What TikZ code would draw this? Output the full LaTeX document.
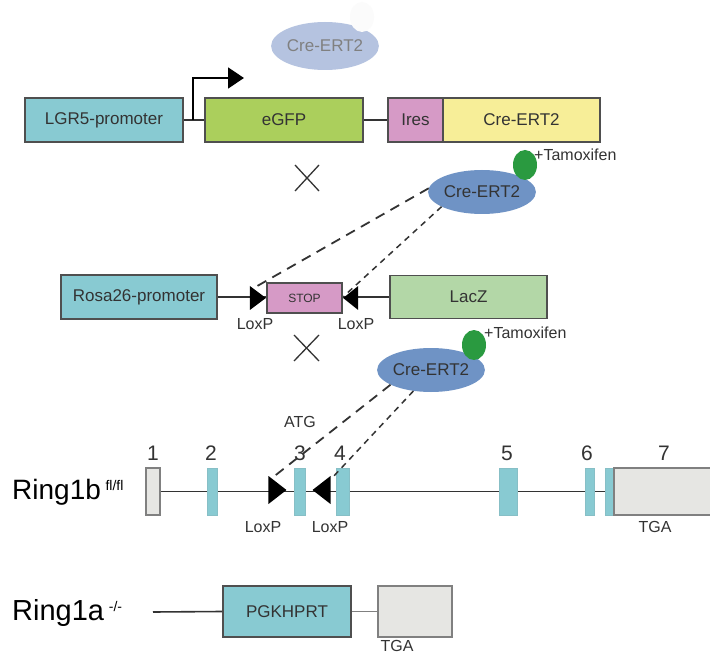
\documentclass[tikz,border=0pt]{standalone}
\usepackage{fontspec}
\setmainfont{Liberation Sans}
\usetikzlibrary{shapes.geometric,arrows.meta,backgrounds}
\definecolor{promo}{HTML}{88CAD2}
\definecolor{gfp}{HTML}{ABCF5C}
\definecolor{iresc}{HTML}{D69AC6}
\definecolor{crey}{HTML}{F7EE98}
\definecolor{lacc}{HTML}{B3D7A7}
\definecolor{greyex}{HTML}{E6E6E3}
\definecolor{creblue}{HTML}{6F93C5}
\definecolor{crefade}{HTML}{B5C3E0}
\definecolor{tamo}{HTML}{2A9A40}
\definecolor{boxline}{HTML}{4F4F4F}
\definecolor{txt}{HTML}{333333}
\tikzset{
  gene/.style={draw=boxline, line width=1.6pt, inner sep=0pt, text=txt,
    font=\fontsize{17}{18}\selectfont},
  exon/.style={fill=promo, draw=promo!85!gray, line width=0.6pt,
    minimum height=47pt, inner sep=0pt},
  greybox/.style={fill=greyex, draw=gray, line width=1.4pt, inner sep=0pt},
  cre/.style={ellipse, fill=creblue, minimum width=105pt, minimum height=44pt,
    inner sep=0pt, text=txt, font=\fontsize{17}{18}\selectfont},
  tam/.style={ellipse, fill=tamo, minimum width=24pt, minimum height=30pt},
  loxr/.style={isosceles triangle, isosceles triangle stretches, fill=black,
    inner sep=0pt, anchor=apex},
  loxl/.style={loxr, shape border rotate=180},
  lbl/.style={text=txt, font=\fontsize{16}{18}\selectfont},
  num/.style={text=txt, font=\fontsize{21}{22}\selectfont, inner sep=1pt},
  cross/.style={line width=1.3pt, draw=txt},
  longdash/.style={line width=1.8pt, draw=txt, dash pattern=on 10pt off 7pt},
  shortdash/.style={line width=1.5pt, draw=txt, dash pattern=on 6pt off 5pt}
}
\begin{document}
\begin{tikzpicture}[x=1pt, y=-1pt]
\clip (0,0) rectangle (710,655);

% LGR5 construct
\node[cre, fill=crefade, text=gray, minimum width=106pt, minimum height=48pt] (creF) at (325,46) {Cre-ERT2};
\node[ellipse, fill=white!97!gray, minimum width=24pt, minimum height=30pt] (blank) at (362,17) {};
\node[gene, fill=promo, minimum width=158pt, minimum height=44pt] (lgr) at (104,120) {LGR5-promoter};
\node[gene, fill=gfp, minimum width=158pt, minimum height=44pt] (egfp) at (284,120) {eGFP};
\node[gene, fill=iresc, minimum width=55pt, minimum height=44pt] (ires) at (415.5,120) {Ires};
\node[gene, fill=crey, minimum width=157pt, minimum height=44pt] (crey) at (521.5,120) {Cre-ERT2};
\begin{scope}[on background layer]
\fill[white] (0,0) rectangle (710,655);
\draw[line width=1.6pt, txt] (lgr.east) -- (egfp.west);
\draw[line width=1.6pt, txt] (egfp.east) -- (ires.west);
\end{scope}
\coordinate (tss) at (193,120);
\coordinate (tssend) at (244,78);
\draw[line width=1.5pt, black, -{Triangle[length=16pt, width=21pt]}] (tss) |- (tssend);

\draw[cross] (295,165) -- (319,191) (295,191) -- (319,165);

\node[cre] (creB) at (482,192) {Cre-ERT2};
\node[tam] (tamB) at (525,165) {};
\node[lbl, anchor=west, inner sep=0pt] (tamtxtB) at (534,155) {+Tamoxifen};

% Rosa26 construct
\node[gene, fill=promo, minimum width=156pt, minimum height=44pt] (rosa) at (139,297) {Rosa26-promoter};
\node[gene, fill=iresc, line width=1.2pt, minimum width=75pt, minimum height=30pt,
  font=\fontsize{12}{14}\selectfont] (stop) at (304.5,298) {STOP};
\node[gene, fill=lacc, minimum width=157pt, minimum height=43pt] (lacz) at (468.5,297) {LacZ};
\begin{scope}[on background layer]
\draw[line width=1.6pt, txt] (rosa.east) -- (lacz.west);
\end{scope}
\node[loxr, minimum width=24pt, minimum height=16pt] (loxA) at (stop.west) {};
\node[loxl, minimum width=24pt, minimum height=15pt] (loxB) at (stop.east) {};
\node[lbl] (loxAtxt) at (255,324) {LoxP};
\node[lbl] (loxBtxt) at (356,324) {LoxP};
\coordinate (dA) at (252,289);
\coordinate (dB) at (344,296);
\draw[longdash] (creB.176) -- (dA);
\draw[shortdash] (creB.200) -- (dB);

\draw[cross] (294,335) -- (319,361) (294,361) -- (319,335);

\node[cre] (creC) at (431,370) {Cre-ERT2};
\node[tam] (tamC) at (474,345) {};
\node[lbl, anchor=west, inner sep=0pt] (tamtxtC) at (484,333) {+Tamoxifen};
\node[lbl] (atg) at (300,422) {ATG};

% Ring1b fl/fl
\node[anchor=west, text=black, font=\fontsize{28}{30}\selectfont, inner sep=0pt] (r1b) at (12,492)
  {Ring1b\,\raisebox{9pt}{\fontsize{14}{14}\selectfont fl/fl}};
\node[greybox, minimum width=14pt, minimum height=47pt] (ex1) at (153,491.5) {};
\node[exon, minimum width=10pt] (ex2) at (212,491.5) {};
\node[exon, minimum width=11pt] (ex3) at (299.5,491.5) {};
\node[exon, minimum width=13pt] (ex4) at (342.5,491.5) {};
\node[exon, minimum width=18pt] (ex5) at (508,491.5) {};
\node[exon, minimum width=9pt] (ex6) at (589.5,491.5) {};
\node[exon, minimum width=9pt] (ex6b) at (609.5,491.5) {};
\node[greybox, minimum width=110pt, minimum height=47pt] (ex7) at (669,491.5) {};
\begin{scope}[on background layer]
\draw[line width=1.8pt, txt] (ex1.east) -- (ex7.west);
\end{scope}
\node[loxr, minimum width=28pt, minimum height=18pt] (loxC) at (287,490) {};
\node[loxl, minimum width=28pt, minimum height=18pt] (loxD) at (312,490) {};
\node[num] (n1) at (153,453) {1};
\node[num] (n2) at (211,453) {2};
\node[num] (n3) at (300,453) {3};
\node[num] (n4) at (340,453) {4};
\node[num] (n5) at (507,453) {5};
\node[num] (n6) at (587,453) {6};
\node[num] (n7) at (664,453) {7};
\node[lbl] (loxCtxt) at (263,527) {LoxP};
\node[lbl] (loxDtxt) at (330,527) {LoxP};
\node[lbl] (tgaB) at (655,527) {TGA};
\coordinate (dC) at (272,478);
\coordinate (dD) at (332,478);
\draw[longdash] (creC.200) -- (dC);
\draw[shortdash] (creC.230) -- (dD);

% Ring1a -/-
\node[anchor=west, text=black, font=\fontsize{29}{30}\selectfont, inner sep=0pt] (r1a) at (12,613)
  {Ring1a\,\raisebox{9pt}{\fontsize{14}{14}\selectfont -/-}};
\node[gene, fill=promo, minimum width=128pt, minimum height=51pt] (pgk) at (287,611.5) {PGKHPRT};
\node[greybox, minimum width=74pt, minimum height=51pt] (tgabox) at (415,611.5) {};
\coordinate (r1aline) at (153,612);
\draw[line width=1.6pt, txt] (r1aline) -- (pgk.west);
\draw[line width=1.3pt, gray] (pgk.east) -- (tgabox.west);
\node[lbl] (tgaA) at (397,646) {TGA};
\end{tikzpicture}
\end{document}
